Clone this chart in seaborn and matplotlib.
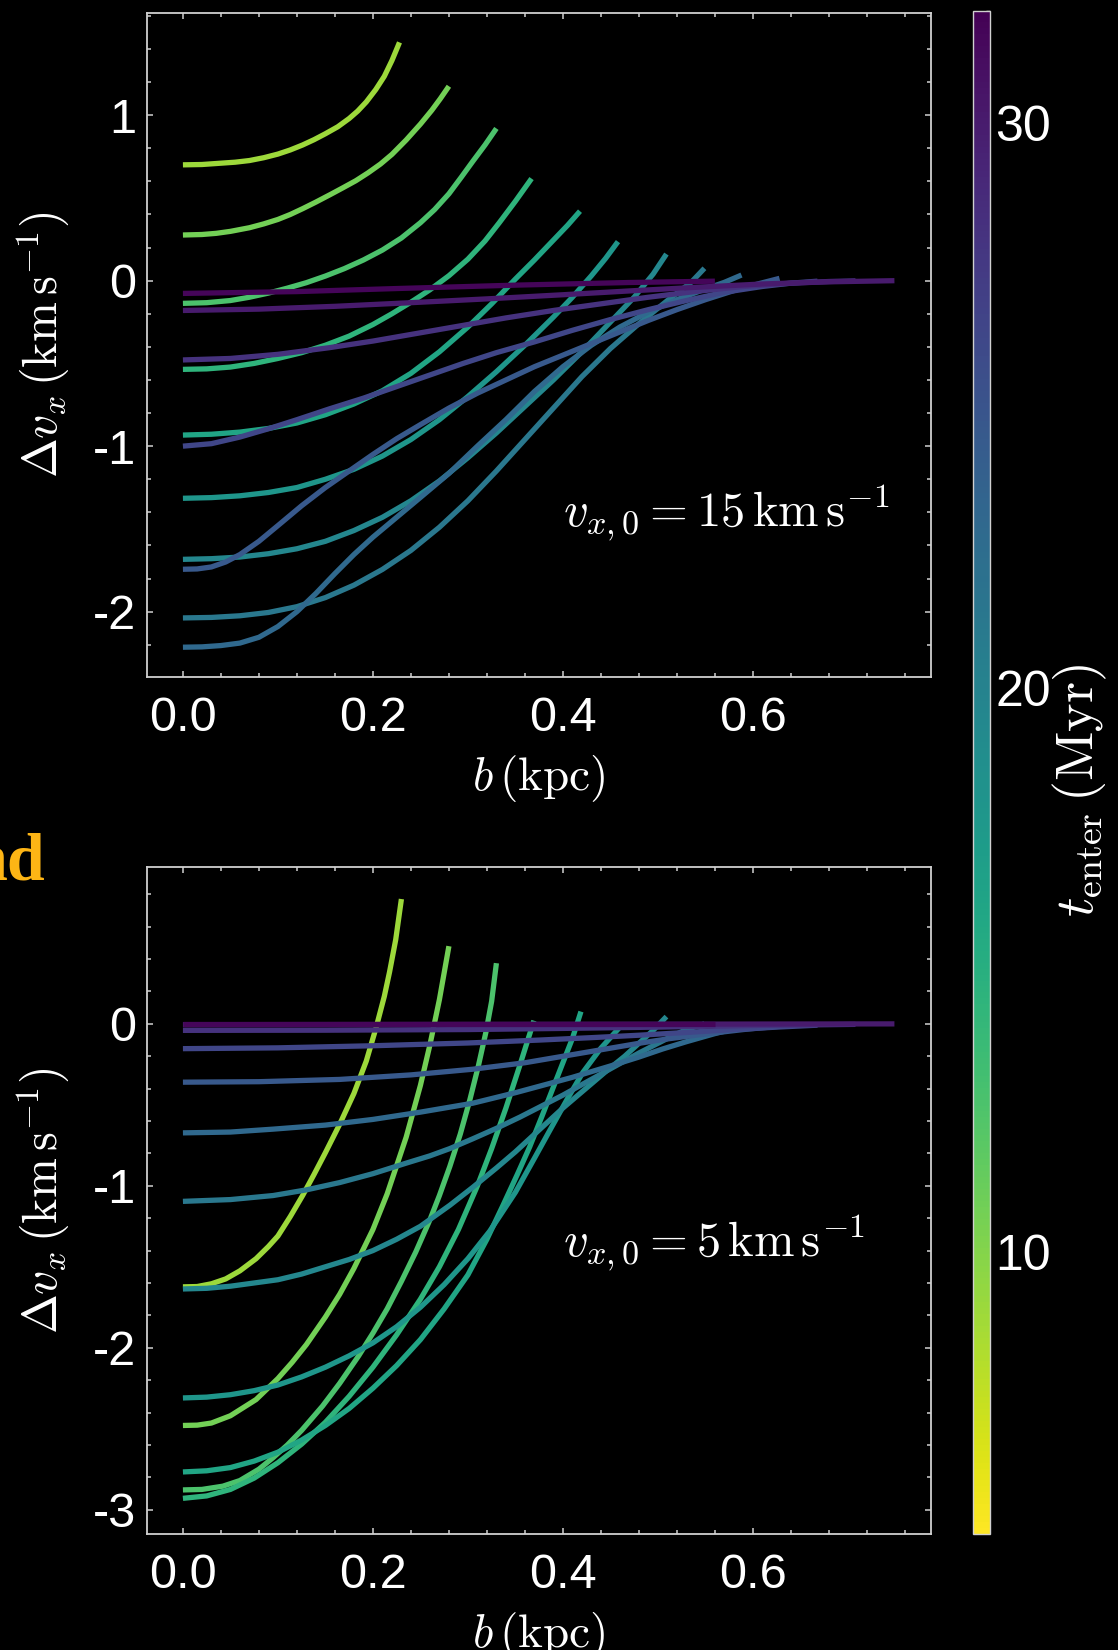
import numpy as np
import pandas as pd
import matplotlib
matplotlib.use("Agg")
import matplotlib.pyplot as plt
import seaborn as sns
from matplotlib.ticker import MultipleLocator, FuncFormatter
from matplotlib.colors import Normalize
from matplotlib.cm import ScalarMappable

# ---------------- data ----------------
curve_names = ["A", "B", "C", "D", "E", "F", "G", "H", "I", "J", "K", "L", "M", "N"]
t_enter = [9.0, 10.8, 12.6, 14.4, 16.1, 17.8, 19.5, 21.2, 22.9, 24.6, 26.4, 28.2, 30.0, 31.6]

# top panel: v_x0 = 15 km/s
b_top_A = [0, 0.02, 0.04, 0.055, 0.07, 0.085, 0.10, 0.113, 0.126, 0.138, 0.15, 0.163, 0.175, 0.184, 0.193, 0.203, 0.212, 0.22, 0.228]
dv_top_A = [0.70, 0.702, 0.71, 0.716, 0.726, 0.743, 0.765, 0.79, 0.82, 0.852, 0.888, 0.93, 0.98, 1.025, 1.08, 1.155, 1.235, 1.33, 1.44]
b_top_B = [0, 0.02, 0.035, 0.05, 0.07, 0.085, 0.10, 0.113, 0.126, 0.14, 0.155, 0.168, 0.182, 0.195, 0.208, 0.22, 0.235, 0.25, 0.262, 0.271, 0.28]
dv_top_B = [0.276, 0.279, 0.286, 0.298, 0.32, 0.343, 0.37, 0.40, 0.435, 0.475, 0.52, 0.56, 0.604, 0.652, 0.705, 0.763, 0.85, 0.946, 1.03, 1.10, 1.175]
b_top_C = [0, 0.025, 0.05, 0.07, 0.09, 0.11, 0.13, 0.15, 0.17, 0.19, 0.21, 0.23, 0.25, 0.265, 0.28, 0.293, 0.305, 0.318, 0.33]
dv_top_C = [-0.137, -0.133, -0.12, -0.10, -0.075, -0.045, -0.012, 0.028, 0.073, 0.125, 0.185, 0.258, 0.35, 0.43, 0.525, 0.625, 0.72, 0.82, 0.92]
b_top_D = [0, 0.025, 0.05, 0.075, 0.10, 0.125, 0.15, 0.175, 0.20, 0.22, 0.24, 0.26, 0.28, 0.30, 0.318, 0.333, 0.35, 0.367]
dv_top_D = [-0.536, -0.533, -0.522, -0.50, -0.47, -0.435, -0.39, -0.335, -0.265, -0.20, -0.13, -0.055, 0.03, 0.13, 0.24, 0.35, 0.48, 0.617]
b_top_E = [0, 0.03, 0.06, 0.09, 0.12, 0.15, 0.18, 0.21, 0.24, 0.27, 0.30, 0.325, 0.35, 0.37, 0.39, 0.405, 0.418]
dv_top_E = [-0.933, -0.928, -0.915, -0.893, -0.86, -0.81, -0.745, -0.665, -0.56, -0.43, -0.28, -0.14, 0.01, 0.125, 0.245, 0.335, 0.42]
b_top_F = [0, 0.03, 0.06, 0.09, 0.12, 0.15, 0.18, 0.21, 0.24, 0.27, 0.30, 0.33, 0.36, 0.39, 0.41, 0.43, 0.445, 0.458]
dv_top_F = [-1.315, -1.311, -1.30, -1.28, -1.25, -1.20, -1.14, -1.06, -0.96, -0.84, -0.70, -0.55, -0.39, -0.22, -0.10, 0.03, 0.135, 0.236]
b_top_G = [0, 0.03, 0.06, 0.09, 0.12, 0.15, 0.18, 0.21, 0.24, 0.27, 0.30, 0.33, 0.36, 0.39, 0.42, 0.45, 0.475, 0.495, 0.509]
dv_top_G = [-1.684, -1.68, -1.67, -1.65, -1.62, -1.575, -1.51, -1.43, -1.33, -1.21, -1.07, -0.92, -0.76, -0.60, -0.43, -0.25, -0.10, 0.04, 0.161]
b_top_H = [0, 0.03, 0.06, 0.09, 0.12, 0.15, 0.18, 0.21, 0.24, 0.27, 0.30, 0.33, 0.36, 0.39, 0.42, 0.45, 0.48, 0.51, 0.535, 0.549]
dv_top_H = [-2.038, -2.035, -2.025, -2.005, -1.97, -1.915, -1.84, -1.745, -1.63, -1.49, -1.33, -1.15, -0.96, -0.77, -0.58, -0.41, -0.26, -0.12, -0.01, 0.075]
b_top_I = [0, 0.02, 0.04, 0.06, 0.08, 0.10, 0.12, 0.14, 0.16, 0.18, 0.20, 0.225, 0.25, 0.28, 0.31, 0.34, 0.37, 0.40, 0.43, 0.46, 0.49, 0.52, 0.55, 0.57, 0.588]
dv_top_I = [-2.215, -2.213, -2.205, -2.19, -2.155, -2.09, -2.0, -1.89, -1.77, -1.655, -1.55, -1.43, -1.31, -1.165, -1.0, -0.84, -0.67, -0.52, -0.39, -0.28, -0.19, -0.115, -0.05, -0.01, 0.034]
b_top_J = [0, 0.015, 0.03, 0.045, 0.06, 0.08, 0.10, 0.125, 0.15, 0.175, 0.20, 0.225, 0.25, 0.28, 0.31, 0.34, 0.37, 0.40, 0.43, 0.46, 0.49, 0.52, 0.55, 0.58, 0.605, 0.628]
dv_top_J = [-1.744, -1.742, -1.73, -1.70, -1.655, -1.575, -1.48, -1.36, -1.25, -1.15, -1.05, -0.955, -0.87, -0.77, -0.68, -0.60, -0.52, -0.45, -0.38, -0.31, -0.24, -0.175, -0.115, -0.06, -0.02, 0.014]
b_top_K = [0, 0.03, 0.06, 0.09, 0.12, 0.154, 0.19, 0.225, 0.26, 0.295, 0.33, 0.37, 0.41, 0.45, 0.49, 0.53, 0.57, 0.61, 0.64, 0.668]
dv_top_K = [-1.0, -0.985, -0.945, -0.895, -0.84, -0.775, -0.71, -0.64, -0.57, -0.50, -0.435, -0.37, -0.30, -0.235, -0.175, -0.12, -0.07, -0.035, -0.015, -0.003]
b_top_L = [0, 0.05, 0.10, 0.154, 0.20, 0.25, 0.295, 0.34, 0.39, 0.44, 0.49, 0.54, 0.59, 0.64, 0.68, 0.708]
dv_top_L = [-0.479, -0.47, -0.445, -0.405, -0.365, -0.315, -0.27, -0.225, -0.18, -0.14, -0.10, -0.065, -0.035, -0.015, -0.005, -0.001]
b_top_M = [0, 0.08, 0.16, 0.24, 0.32, 0.40, 0.47, 0.54, 0.61, 0.68, 0.749]
dv_top_M = [-0.18, -0.172, -0.155, -0.133, -0.11, -0.085, -0.062, -0.04, -0.02, -0.007, 0.0]
b_top_N = [0, 0.12, 0.228, 0.35, 0.47, 0.56]
dv_top_N = [-0.077, -0.066, -0.047, -0.027, -0.011, -0.003]

# bottom panel: v_x0 = 5 km/s
b_bot_A = [0, 0.015, 0.03, 0.045, 0.06, 0.077, 0.09, 0.10, 0.113, 0.126, 0.138, 0.15, 0.165, 0.18, 0.193, 0.2035, 0.212, 0.2175, 0.224, 0.23]
dv_bot_A = [-1.624, -1.622, -1.605, -1.575, -1.525, -1.45, -1.375, -1.31, -1.19, -1.06, -0.93, -0.795, -0.62, -0.43, -0.23, -0.02, 0.17, 0.32, 0.52, 0.771]
b_bot_B = [0, 0.015, 0.03, 0.05, 0.077, 0.10, 0.115, 0.13, 0.15, 0.165, 0.18, 0.20, 0.215, 0.235, 0.25, 0.26, 0.27, 0.28]
dv_bot_B = [-2.48, -2.478, -2.465, -2.42, -2.32, -2.19, -2.09, -1.98, -1.81, -1.67, -1.51, -1.27, -1.05, -0.70, -0.38, -0.13, 0.15, 0.48]
b_bot_C = [0, 0.02, 0.042, 0.06, 0.08, 0.0947, 0.11, 0.125, 0.147, 0.165, 0.185, 0.20, 0.215, 0.23, 0.245, 0.26, 0.27, 0.281, 0.292, 0.302, 0.311, 0.319, 0.325, 0.33]
dv_bot_C = [-2.878, -2.875, -2.855, -2.82, -2.75, -2.68, -2.60, -2.51, -2.36, -2.22, -2.05, -1.91, -1.76, -1.59, -1.41, -1.21, -1.06, -0.88, -0.68, -0.47, -0.26, -0.05, 0.14, 0.375]
b_bot_D = [0, 0.025, 0.05, 0.075, 0.10, 0.125, 0.15, 0.175, 0.20, 0.225, 0.25, 0.27, 0.29, 0.31, 0.325, 0.34, 0.355, 0.3695]
dv_bot_D = [-2.93, -2.915, -2.875, -2.805, -2.71, -2.595, -2.46, -2.30, -2.12, -1.92, -1.70, -1.50, -1.27, -1.00, -0.77, -0.52, -0.25, 0.02]
b_bot_E = [0, 0.025, 0.05, 0.075, 0.10, 0.125, 0.15, 0.175, 0.20, 0.225, 0.25, 0.275, 0.30, 0.32, 0.337, 0.352, 0.365, 0.378, 0.39, 0.40, 0.41, 0.419]
dv_bot_E = [-2.767, -2.76, -2.74, -2.70, -2.645, -2.57, -2.48, -2.375, -2.25, -2.11, -1.95, -1.76, -1.55, -1.33, -1.12, -0.93, -0.76, -0.57, -0.39, -0.24, -0.09, 0.076]
b_bot_F = [0, 0.025, 0.05, 0.075, 0.10, 0.125, 0.15, 0.175, 0.20, 0.225, 0.25, 0.275, 0.30, 0.323, 0.35, 0.37, 0.386, 0.405, 0.421, 0.44, 0.46]
dv_bot_F = [-2.31, -2.305, -2.29, -2.265, -2.23, -2.18, -2.12, -2.05, -1.97, -1.87, -1.75, -1.61, -1.45, -1.28, -1.04, -0.83, -0.66, -0.46, -0.30, -0.15, -0.02]
b_bot_G = [0, 0.025, 0.05, 0.075, 0.10, 0.125, 0.15, 0.175, 0.20, 0.225, 0.25, 0.281, 0.305, 0.33, 0.35, 0.375, 0.40, 0.425, 0.446, 0.465, 0.48, 0.495, 0.509]
dv_bot_G = [-1.637, -1.633, -1.62, -1.60, -1.58, -1.545, -1.50, -1.455, -1.40, -1.33, -1.25, -1.12, -1.01, -0.89, -0.79, -0.655, -0.52, -0.395, -0.29, -0.20, -0.12, -0.04, 0.045]
b_bot_H = [0, 0.05, 0.095, 0.13, 0.165, 0.20, 0.235, 0.26, 0.281, 0.305, 0.33, 0.355, 0.375, 0.40, 0.42, 0.44, 0.46, 0.48, 0.50, 0.515, 0.53, 0.549]
dv_bot_H = [-1.096, -1.085, -1.06, -1.025, -0.98, -0.925, -0.86, -0.815, -0.77, -0.71, -0.645, -0.575, -0.515, -0.44, -0.375, -0.31, -0.245, -0.18, -0.12, -0.075, -0.035, 0.0]
b_bot_I = [0, 0.05, 0.095, 0.15, 0.20, 0.25, 0.305, 0.35, 0.41, 0.45, 0.48, 0.505, 0.53, 0.56, 0.588]
dv_bot_I = [-0.673, -0.668, -0.65, -0.625, -0.59, -0.545, -0.49, -0.425, -0.33, -0.26, -0.205, -0.155, -0.11, -0.06, -0.02]
b_bot_J = [0, 0.08, 0.165, 0.24, 0.305, 0.36, 0.41, 0.45, 0.48, 0.51, 0.54, 0.565, 0.59, 0.61, 0.628]
dv_bot_J = [-0.36, -0.357, -0.343, -0.315, -0.28, -0.24, -0.19, -0.15, -0.12, -0.093, -0.07, -0.052, -0.035, -0.024, -0.015]
b_bot_K = [0, 0.10, 0.20, 0.30, 0.375, 0.43, 0.48, 0.53, 0.58, 0.625, 0.668]
dv_bot_K = [-0.153, -0.148, -0.135, -0.118, -0.10, -0.085, -0.07, -0.053, -0.035, -0.02, -0.008]
b_bot_L = [0, 0.15, 0.30, 0.40, 0.50, 0.60, 0.708]
dv_bot_L = [-0.04, -0.039, -0.035, -0.028, -0.02, -0.01, -0.003]
b_bot_M = [0, 0.749]
dv_bot_M = [-0.005, 0.0]
b_bot_N = [0, 0.56]
dv_bot_N = [0.0, 0.0]

top_curves = [(b_top_A, dv_top_A), (b_top_B, dv_top_B), (b_top_C, dv_top_C), (b_top_D, dv_top_D),
              (b_top_E, dv_top_E), (b_top_F, dv_top_F), (b_top_G, dv_top_G), (b_top_H, dv_top_H),
              (b_top_I, dv_top_I), (b_top_J, dv_top_J), (b_top_K, dv_top_K), (b_top_L, dv_top_L),
              (b_top_M, dv_top_M), (b_top_N, dv_top_N)]
bot_curves = [(b_bot_A, dv_bot_A), (b_bot_B, dv_bot_B), (b_bot_C, dv_bot_C), (b_bot_D, dv_bot_D),
              (b_bot_E, dv_bot_E), (b_bot_F, dv_bot_F), (b_bot_G, dv_bot_G), (b_bot_H, dv_bot_H),
              (b_bot_I, dv_bot_I), (b_bot_J, dv_bot_J), (b_bot_K, dv_bot_K), (b_bot_L, dv_bot_L),
              (b_bot_M, dv_bot_M), (b_bot_N, dv_bot_N)]


def to_frame(curves):
    rows = []
    for name, t, (bb, dd) in zip(curve_names, t_enter, curves):
        for x, y in zip(bb, dd):
            rows.append({"curve": name, "t": t, "b": x, "dv": y})
    return pd.DataFrame(rows)


df_top = to_frame(top_curves)
df_bot = to_frame(bot_curves)

# ---------------- style ----------------
sns.set_theme(style="dark")
plt.rcParams.update({
    "figure.facecolor": "black",
    "axes.facecolor": "black",
    "savefig.facecolor": "black",
    "axes.edgecolor": "#d0d0d0",
    "text.color": "white",
    "axes.labelcolor": "white",
    "mathtext.fontset": "cm",
    "axes.unicode_minus": True,
    "axes.grid": False,
})
plt.rcParams["font.family"] = ["Liberation Sans", "DejaVu Sans"]

W, H = 1118, 1650
fig = plt.figure(figsize=(W / 100, H / 100), dpi=100)

ax_top = fig.add_axes([147.3 / W, 1 - 677 / H, (931 - 147.3) / W, (677 - 12.6) / H])
ax_bot = fig.add_axes([147.3 / W, 1 - 1533.8 / H, (931 - 147.3) / W, (1533.8 - 867.3) / H])
cax = fig.add_axes([973 / W, 1 - 1534 / H, 17 / W, (1534 - 10.5) / H])

norm = Normalize(5, 32)
for ax, df in ((ax_top, df_top), (ax_bot, df_bot)):
    sns.lineplot(data=df, x="b", y="dv", hue="t", units="curve", estimator=None,
                 palette="viridis_r", hue_norm=norm, linewidth=3.8, legend=False,
                 sort=False, ax=ax, solid_capstyle="butt", solid_joinstyle="round")

ax_top.set_xlim(-0.0375, 0.7875)
ax_top.set_ylim(-2.395, 1.62)
ax_bot.set_xlim(-0.0375, 0.7875)
ax_bot.set_ylim(-3.149, 0.967)


def int_fmt(v, p):
    r = int(round(v))
    return "0" if r == 0 else str(r)


MINUS = "\u2212"
ylab = r"$\Delta v_x\,(\mathrm{km\,s^{" + MINUS + r"1}})$"

for ax in (ax_top, ax_bot):
    ax.set_facecolor("black")
    for s in ax.spines.values():
        s.set_color("#d0d0d0")
        s.set_linewidth(1.3)
        s.set_visible(True)
    ax.xaxis.set_major_locator(MultipleLocator(0.2))
    ax.xaxis.set_minor_locator(MultipleLocator(0.04))
    ax.yaxis.set_major_locator(MultipleLocator(1))
    ax.yaxis.set_minor_locator(MultipleLocator(0.2))
    ax.xaxis.set_major_formatter(FuncFormatter(lambda v, p: f"{v:.1f}"))
    ax.yaxis.set_major_formatter(FuncFormatter(int_fmt))
    ax.tick_params(which="both", direction="in", top=True, right=True, bottom=True, left=True,
                   color="#d0d0d0", labelcolor="white", width=1.1)
    ax.tick_params(which="major", length=4.5, labelsize=35)
    ax.tick_params(which="minor", length=2.6)
    ax.tick_params(axis="x", which="major", pad=14)
    ax.tick_params(axis="y", which="major", pad=8)
    ax.set_xlabel(r"$b\,(\mathrm{kpc})$", fontsize=34, color="white")
    ax.set_ylabel(ylab, fontsize=34.5, color="white")
    ax.yaxis.set_label_coords(-0.097, 0.5)

ax_top.xaxis.set_label_coords(0.5, -0.115)
ax_bot.xaxis.set_label_coords(0.5, -0.114)

ax_top.text(0.40, -1.40, r"$v_{x,0} = 15\,\mathrm{km\,s^{" + MINUS + r"1}}$", fontsize=35,
            color="white", ha="left", va="center")
ax_bot.text(0.40, -1.35, r"$v_{x,0} = 5\,\mathrm{km\,s^{" + MINUS + r"1}}$", fontsize=35,
            color="white", ha="left", va="center")

# colorbar
sm = ScalarMappable(norm=norm, cmap="viridis_r")
cb = fig.colorbar(sm, cax=cax)
cb.set_ticks([10, 20, 30])
cb.ax.yaxis.set_minor_locator(MultipleLocator(2))
cb.ax.yaxis.set_major_formatter(FuncFormatter(int_fmt))
cb.ax.tick_params(which="both", direction="in", color="white", labelcolor="white", width=1.0)
cb.ax.tick_params(which="major", length=4.5, labelsize=36, pad=4)
cb.ax.tick_params(which="minor", length=2.6)
cb.outline.set_edgecolor("#d0d0d0")
cb.outline.set_linewidth(1.0)
fig.text(1080 / W, 1 - 790 / H, r"$t_{\mathrm{enter}}\,(\mathrm{Myr})$", rotation=90,
         fontsize=39, color="white", ha="center", va="center")

# partial orange slide text at the left edge
fig.text(45 / W, 1 - 879 / H, "nd", color="#FDB515", fontsize=49, fontweight="bold",
         family=["Liberation Serif", "DejaVu Serif"], ha="right", va="baseline")

fig.savefig("out.png", dpi=100, facecolor="black")
